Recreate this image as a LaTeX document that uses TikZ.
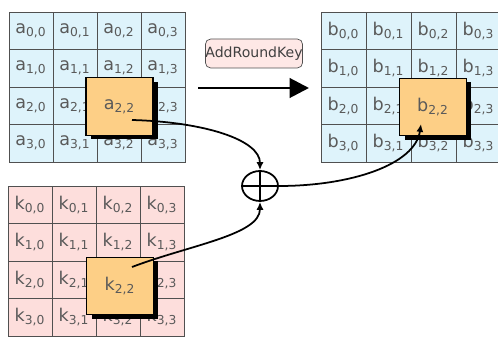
\documentclass[tikz,border=0pt]{standalone}
\usepackage{fontspec}
\setmainfont{DejaVu Sans}
\usetikzlibrary{arrows.meta,shapes.geometric,shadows}
\definecolor{stateblue}{RGB}{222,243,251}
\definecolor{keypink}{RGB}{253,222,220}
\definecolor{hiorange}{RGB}{253,207,134}
\definecolor{labelgray}{RGB}{90,90,90}
\definecolor{gridgray}{RGB}{80,80,80}

\begin{document}
\begin{tikzpicture}[x=0.02cm,y=-0.02cm,
        cell/.style={draw=gridgray,line width=0.5pt,minimum width=0.88cm,minimum height=0.75cm,inner sep=0pt,text=labelgray,font=\fontsize{10}{12}\selectfont},
        hibox/.style={draw=black,line width=0.8pt,fill=hiorange,minimum width=1.34cm,minimum height=1.15cm,inner sep=0pt,text=labelgray,font=\fontsize{10}{12}\selectfont,
            drop shadow={shadow xshift=0.1cm,shadow yshift=-0.08cm,fill=black,opacity=1}},
        link/.style={line width=1pt,-{Latex[length=4.5pt,width=4pt]}}]
        \useasboundingbox (0,0) rectangle (498,337);
        \clip (0,0) rectangle (498,337);
        \foreach \r in {0,...,3} {
            \foreach \c in {0,...,3} {
                \node [cell,fill=stateblue] (a\r\c) at ({31+44*\c},{30.75+37.5*\r}) {\ifnum\r\c=22 \else a\textsubscript{\r,\c}\fi};
                \node [cell,fill=keypink] (k\r\c) at ({30+44*\c},{204.75+37.5*\r}) {\ifnum\r\c=22 \else k\textsubscript{\r,\c}\fi};
                \node [cell,fill=stateblue,minimum width=0.9cm] (b\r\c) at ({343.5+45*\c},{30.75+37.5*\r}) {\ifnum\r\c=22 \else b\textsubscript{\r,\c}\fi};
            }
        }
        \node [hibox] (ahi) at (119.5,106.5) {a\textsubscript{2,2}};
        \node [hibox] (khi) at (120,286) {k\textsubscript{2,2}};
        \node [hibox] (bhi) at (433,107) {b\textsubscript{2,2}};
        \node [draw=gridgray,fill=keypink!70!white,rounded corners=3pt,minimum width=1.8cm,minimum height=0.58cm,inner sep=0pt,text=black!75,font=\fontsize{8}{9}\selectfont] (ark) at (254,53.5) {AddRoundKey};
        \coordinate (arrL) at (198,88);
        \coordinate (arrR) at (309,88);
        \draw [line width=1.7pt,-{Triangle[length=11pt,width=11pt]}] (arrL) -- (arrR);
        \node [draw,ellipse,line width=1pt,minimum width=0.72cm,minimum height=0.6cm,inner sep=0pt] (xor) at (260,186) {};
        \draw [line width=1pt] (xor.north) -- (xor.south) (xor.west) -- (xor.east);
        \coordinate (aout) at (132,120);
        \coordinate (kout) at (132,267);
        \coordinate (bin) at (421,124);
        \draw [link] (aout) .. controls (205,122) and (260,140) .. (xor.north);
        \draw [link] (kout) .. controls (190,245) and (260,235) .. (xor.south);
        \draw [link] (xor.east) .. controls (350,186) and (415,165) .. (bin);
    \end{tikzpicture}
\end{document}
